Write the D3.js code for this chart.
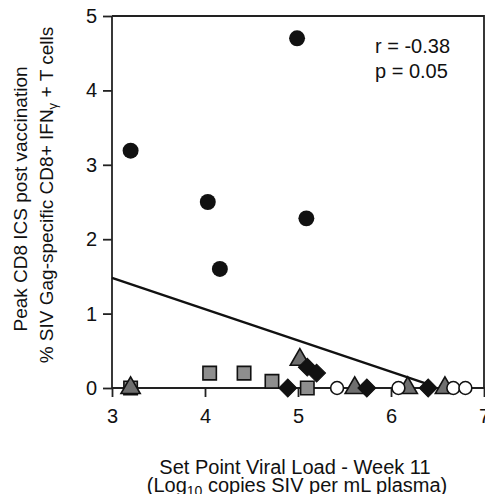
<!DOCTYPE html>
<html>
<head>
<meta charset="utf-8">
<script src="https://cdn.jsdelivr.net/npm/d3@7"></script>
<style>
  body { margin: 0; background: #fff; }
  text { font-family: "Liberation Sans", Arial, sans-serif; fill: #111; }
</style>
</head>
<body>
<svg id="chart" width="485" height="494"></svg>
<script>
// values
const xTicks = [3, 4, 5, 6, 7];
const yTicks = [0, 1, 2, 3, 4, 5];

const filledCircleX = [3.2, 4.03, 4.16, 4.99, 5.09];
const filledCircleY = [3.19, 2.5, 1.6, 4.7, 2.28];
const squareX = [3.2, 4.05, 4.42, 4.72, 5.1];
const squareY = [0, 0.2, 0.2, 0.09, 0];
const triangleX = [3.2, 5.02, 5.61, 6.18, 6.58];
const triangleY = [0, 0.38, 0, 0, 0];
const diamondX = [4.89, 5.1, 5.2, 5.74, 6.4];
const diamondY = [0, 0.28, 0.2, 0, 0];
const openCircleX = [5.42, 6.08, 6.67, 6.8];
const openCircleY = [0, 0, 0, 0];

const fitLineX = [3, 6.38];
const fitLineY = [1.48, 0.06];

const stats = ["r = -0.38", "p = 0.05"];

const svg = d3.select("#chart");
const x = d3.scaleLinear().domain([3, 7]).range([112, 484]);
const y = d3.scaleLinear().domain([0, 5]).range([388, 16]);

// frame (top and right)
svg.append("path")
  .attr("d", `M${x(3)},${y(5)}H${x(7)}V${y(0)}`)
  .attr("fill", "none").attr("stroke", "#222").attr("stroke-width", 1.8);

const gx = svg.append("g").attr("transform", `translate(0,${y(0)})`)
  .call(d3.axisBottom(x).tickValues(xTicks).tickSize(9).tickPadding(12).tickFormat(d3.format("d")));
const gy = svg.append("g").attr("transform", `translate(${x(3)},0)`)
  .call(d3.axisLeft(y).tickValues(yTicks).tickSize(9).tickPadding(6).tickFormat(d3.format("d")));

[gx, gy].forEach(g => {
  g.select(".domain").attr("stroke", "#222").attr("stroke-width", 1.8);
  g.selectAll(".tick line").attr("stroke", "#222").attr("stroke-width", 1.8);
  g.selectAll(".tick text").style("font-size", "20px").attr("fill", "#111");
});
gx.select(".domain").attr("d", `M${x(3)},0H${x(7) + 2}`);
gy.select(".domain").attr("d", `M0,${y(5)}V${y(0)}`);

// regression line
svg.append("line")
  .attr("x1", x(fitLineX[0])).attr("y1", y(fitLineY[0]))
  .attr("x2", x(fitLineX[1])).attr("y2", y(fitLineY[1]))
  .attr("stroke", "#111").attr("stroke-width", 2.4);

function pts(xs, ys) { return xs.map((v, i) => ({ x: v, y: ys[i] })); }

function drawSymbol(data, type, size, fill, rotate, strokeW) {
  svg.append("g").selectAll("path")
    .data(data)
    .join("path")
    .attr("d", d3.symbol().type(type).size(size))
    .attr("transform", d => `translate(${x(d.x)},${y(d.y)}) rotate(${rotate})`)
    .attr("fill", fill)
    .attr("stroke", "#111")
    .attr("stroke-width", strokeW);
}

drawSymbol(pts(squareX, squareY), d3.symbolSquare, 180, "#8e8e8e", 0, 1.6);
drawSymbol(pts(triangleX, triangleY), d3.symbolTriangle, 160, "#6f6f6f", 0, 1.6);
drawSymbol(pts(diamondX, diamondY), d3.symbolSquare, 160, "#111", 45, 1);
drawSymbol(pts(openCircleX, openCircleY), d3.symbolCircle, 130, "#fff", 0, 1.6);
drawSymbol(pts(filledCircleX, filledCircleY), d3.symbolCircle, 200, "#111", 0, 0);

// stats
svg.append("g").selectAll("text")
  .data(stats)
  .join("text")
  .attr("x", 375)
  .attr("y", (d, i) => 53 + i * 25)
  .style("font-size", "20px")
  .text(d => d);

// x axis title
svg.append("text").attr("text-anchor", "middle").style("font-size", "20px")
  .attr("x", 295).attr("y", 474).text("Set Point Viral Load - Week 11");
const xt2 = svg.append("text").attr("text-anchor", "middle").style("font-size", "20px")
  .attr("x", 297).attr("y", 492);
xt2.append("tspan").text("(Log");
xt2.append("tspan").attr("dy", 4).style("font-size", "14px").text("10");
xt2.append("tspan").attr("dy", -4).text(" copies SIV per mL plasma)");

// y axis title
svg.append("text").attr("text-anchor", "middle").style("font-size", "19px")
  .attr("transform", "translate(27,199) rotate(-90)")
  .text("Peak CD8 ICS post vaccination");
const yt2 = svg.append("text").attr("text-anchor", "middle").style("font-size", "19px")
  .attr("transform", "translate(53,195) rotate(-90)");
yt2.append("tspan").text("% SIV Gag-specific CD8+ IFN");
yt2.append("tspan").attr("dy", 4).style("font-size", "13px").text("γ");
yt2.append("tspan").attr("dy", -4).text(" + T cells");
</script>
</body>
</html>
